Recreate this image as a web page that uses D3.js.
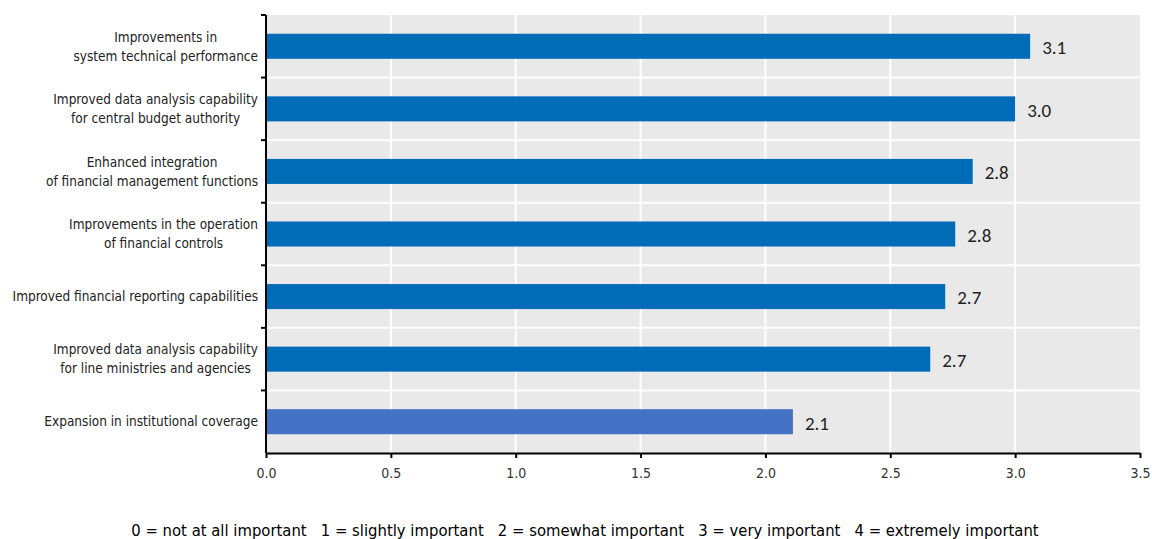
<!DOCTYPE html>
<html>
<head>
<meta charset="utf-8">
<script src="https://d3js.org/d3.v7.min.js"></script>
<style>
  body { margin: 0; background: #fff; }
  .narrow { font-family: "Liberation Sans Narrow", "Arial Narrow", "DejaVu Sans Condensed", sans-serif; }
</style>
</head>
<body>
<svg id="chart" width="1152" height="539"></svg>
<script>
    // data
    var categories = [
        ["Improvements in", "system technical performance"],
        ["Improved data analysis capability", "for central budget authority"],
        ["Enhanced integration", "of financial management functions"],
        ["Improvements in the operation", "of financial controls"],
        ["Improved financial reporting capabilities"],
        ["Improved data analysis capability", "for line ministries and agencies"],
        ["Expansion in institutional coverage"]
    ];
    var values = [3.06, 3.0, 2.83, 2.76, 2.72, 2.66, 2.11];
    var barColors = ["#006bb6", "#006bb6", "#006bb6", "#006bb6", "#006bb6", "#006bb6", "#4472c4"];
    var xTicks = [0, 0.5, 1, 1.5, 2, 2.5, 3, 3.5];
    var note = "0 = not at all important   1 = slightly important   2 = somewhat important   3 = very important   4 = extremely important";

    var svg = d3.select("#chart");
    var plotLeft = 266, plotRight = 1140, plotTop = 15, plotBottom = 453;

    var x = d3.scaleLinear().domain([0, 3.5]).range([plotLeft, plotRight]);
    var y = d3.scaleBand().domain(d3.range(categories.length)).range([plotTop, plotBottom]);
    var barH = y.bandwidth() * 0.4;

    // plot background
    svg.append("rect")
        .attr("x", plotLeft).attr("y", plotTop)
        .attr("width", plotRight - plotLeft).attr("height", plotBottom - plotTop)
        .attr("fill", "#e9e9e9");

    // vertical grid
    svg.append("g").selectAll("line")
        .data(xTicks.slice(1, -1))
        .enter().append("line")
        .attr("x1", function (d) { return x(d); }).attr("x2", function (d) { return x(d); })
        .attr("y1", plotTop).attr("y2", plotBottom)
        .attr("stroke", "#fff").attr("stroke-width", 2);

    // horizontal grid at band edges
    svg.append("g").selectAll("line")
        .data(d3.range(1, categories.length))
        .enter().append("line")
        .attr("x1", plotLeft).attr("x2", plotRight)
        .attr("y1", function (d) { return y(d); }).attr("y2", function (d) { return y(d); })
        .attr("stroke", "#fff").attr("stroke-width", 2);

    // bars
    svg.append("g").selectAll("rect")
        .data(values)
        .enter().append("rect")
        .attr("x", x(0))
        .attr("y", function (d, i) { return y(i) + (y.bandwidth() - barH) / 2; })
        .attr("width", function (d) { return x(d) - x(0); })
        .attr("height", barH)
        .attr("fill", function (d, i) { return barColors[i]; });

    // value labels
    svg.append("g").selectAll("text")
        .data(values)
        .enter().append("text")
        .attr("x", function (d) { return x(d) + 12; })
        .attr("y", function (d, i) { return y(i) + y.bandwidth() / 2 + 1; })
        .attr("dy", "0.36em")
        .style("font-family", "Carlito, Lato, sans-serif")
        .style("font-size", "19px")
        .attr("fill", "#222")
        .text(function (d) { return d.toFixed(1); });

    // bottom axis
    var xAxis = svg.append("g")
        .attr("transform", "translate(0," + plotBottom + ")")
        .call(d3.axisBottom(x).tickValues(xTicks).tickFormat(d3.format(".1f")).tickSizeInner(5).tickSizeOuter(0).tickPadding(10));
    xAxis.select(".domain").attr("stroke", "#000").attr("stroke-width", 2);
    xAxis.selectAll(".tick line").attr("stroke", "#000").attr("stroke-width", 2);
    xAxis.selectAll("text")
        .attr("class", "narrow")
        .style("font-size", "14px")
        .attr("fill", "#333");

    // left axis line + ticks at band edges
    svg.append("line")
        .attr("x1", plotLeft).attr("x2", plotLeft).attr("y1", plotTop).attr("y2", plotBottom)
        .attr("stroke", "#000").attr("stroke-width", 2);
    svg.append("g").selectAll("line")
        .data(d3.range(0, categories.length))
        .enter().append("line")
        .attr("x1", plotLeft - 5).attr("x2", plotLeft)
        .attr("y1", function (d) { return y(d); }).attr("y2", function (d) { return y(d); })
        .attr("stroke", "#000").attr("stroke-width", 2);

    // category labels: lines centred, block right-aligned
    var labelRight = 258, lineH = 19;
    categories.forEach(function (lines, i) {
        var g = svg.append("g");
        var texts = g.selectAll("text")
            .data(lines)
            .enter().append("text")
            .attr("class", "narrow")
            .style("font-size", "13.5px")
            .attr("fill", "#222")
            .attr("text-anchor", "middle")
            .attr("y", function (d, j) {
                return y(i) + y.bandwidth() / 2 + (j - (lines.length - 1) / 2) * lineH;
            })
            .attr("dy", "0.35em")
            .text(function (d) { return d; });
        var w = d3.max(texts.nodes(), function (n) { return n.getComputedTextLength(); });
        texts.attr("x", labelRight - w / 2);
    });

    // note under the chart
    svg.append("text")
        .attr("class", "narrow")
        .attr("x", 585)
        .attr("y", 536)
        .attr("text-anchor", "middle")
        .style("font-size", "16.5px")
        .attr("fill", "#000")
        .attr("xml:space", "preserve")
        .style("white-space", "pre")
        .text(note);
</script>
</body>
</html>
